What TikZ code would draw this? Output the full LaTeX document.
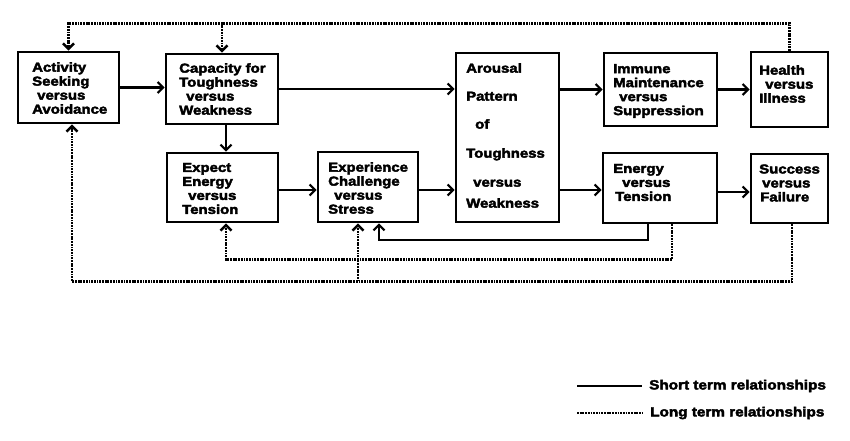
\documentclass[tikz,border=0pt]{standalone}
\usepackage{fontspec}
\setmainfont{Liberation Sans}[FakeStretch=1.15,FakeBold=3]
\usetikzlibrary{arrows.meta}
\tikzset{
  box/.style={draw, line width=2.6pt, inner sep=0pt},
  txt/.style={anchor=west, align=left, inner sep=0pt, font=\fontsize{13}{14}\selectfont\bfseries},
  sarr/.style={line width=2.2pt, -{Straight Barb[length=5.5pt,width=11pt]}},
  sline/.style={line width=2.2pt},
  ldot/.style={line width=2.6pt, dash pattern=on 1.8pt off 0.9pt},
  ldarr/.style={ldot, -{Straight Barb[length=5.5pt,width=11pt]}},
  legtxt/.style={anchor=west, inner sep=0pt, font=\fontsize{13.3}{15}\selectfont\bfseries}
}
\begin{document}
\begin{tikzpicture}[x=1pt,y=-1pt]
\fill[white] (0,0) rectangle (850,440);
\useasboundingbox (0,0) rectangle (850,440);
% boxes
\node[box, minimum width=101pt, minimum height=71pt] (act) at (68.5,87.5) {};
\node[box, minimum width=112pt, minimum height=70pt] (cap) at (222,89) {};
\node[box, minimum width=111pt, minimum height=69pt] (exp) at (222.5,187.5) {};
\node[box, minimum width=100pt, minimum height=70pt] (xp) at (368,187) {};
\node[box, minimum width=103pt, minimum height=169pt] (aro) at (507.5,137.5) {};
\node[box, minimum width=113pt, minimum height=73pt] (imm) at (660.5,89.5) {};
\node[box, minimum width=77pt, minimum height=75pt] (hea) at (789.5,89.5) {};
\node[box, minimum width=114pt, minimum height=70pt] (ene) at (660,188) {};
\node[box, minimum width=77pt, minimum height=69pt] (suc) at (789.5,188.5) {};
% texts
\node[txt] (tact) at (32,88) {Activity\\Seeking\\\hspace*{5pt}versus\\Avoidance};
\node[txt] (tcap) at (179,89) {Capacity for\\Toughness\\\hspace*{7pt}versus\\Weakness};
\node[txt] (texp) at (182,188.5) {Expect\\Energy\\\hspace*{6pt}versus\\Tension};
\node[txt] (txp) at (328,188) {Experience\\Challenge\\\hspace*{6pt}versus\\Stress};
\node[txt] (taro) at (466,135.5) {Arousal\\[14pt]Pattern\\[14pt]\hspace*{9pt}of\\[15pt]Toughness\\[15pt]\hspace*{7pt}versus\\[7pt]Weakness};
\node[txt] (timm) at (613,91) {Immune\\Maintenance\\\hspace*{6pt}versus\\Suppression};
\node[txt] (thea) at (759,84) {Health\\\hspace*{6pt}versus\\Illness};
\node[txt] (tene) at (613,182.5) {Energy\\\hspace*{9pt}versus\\\hspace*{2pt}Tension};
\node[txt] (tsuc) at (759,183) {Success\\\hspace*{3pt}versus\\\hspace*{1pt}Failure};
% short term
\draw[sarr] (act.east) -- (act.east -| cap.west);
\draw[sarr] (cap.east) -- (cap.east -| aro.west);
\draw[sarr] ([xshift=4pt]cap.south) -- ([xshift=4pt]cap.south |- exp.north);
\draw[sarr] ([yshift=-2.5pt]exp.east) -- ([yshift=-2.5pt]exp.east -| xp.west);
\draw[sarr] ([yshift=-3pt]xp.east) -- ([yshift=-3pt]xp.east -| aro.west);
\draw[sarr] (aro.east |- imm.west) -- (imm.west);
\draw[sarr] ([yshift=-2pt]aro.east |- ene.west) -- ([yshift=-2pt]ene.west);
\draw[sarr] (imm.east) -- (imm.east -| hea.west);
\draw[sarr] ([yshift=-4pt]ene.east) -- ([yshift=-4pt]ene.east -| suc.west);
\draw[sarr] ([xshift=-12pt]ene.south) -- ++(0,16) -| ([xshift=11pt]xp.south);
% long term
\draw[ldarr] (hea.north) -- ++(0,-27) coordinate (tr) -| (act.north);
\draw[ldarr] (tr -| cap.north) -- (cap.north);
\draw[ldarr] ([xshift=12pt]ene.south) -- ++(0,35) -| ([xshift=3.5pt]exp.south);
\draw[ldarr] ([xshift=2.5pt]suc.south) -- ++(0,57) coordinate (br) -| ([xshift=3.5pt]act.south);
\draw[ldarr] ([xshift=-10pt]xp.south |- br) -- ([xshift=-10pt]xp.south);
% legend
\coordinate (l1a) at (577,386);
\coordinate (l1b) at (642,386);
\coordinate (l2a) at (577,413);
\coordinate (l2b) at (642,413);
\draw[sline] (l1a) -- (l1b);
\draw[ldot] (l2a) -- (l2b);
\node[legtxt] (lg1) at (649,386) {Short term relationships};
\node[legtxt] (lg2) at (650,413) {Long term relationships};
\end{tikzpicture}
\end{document}
